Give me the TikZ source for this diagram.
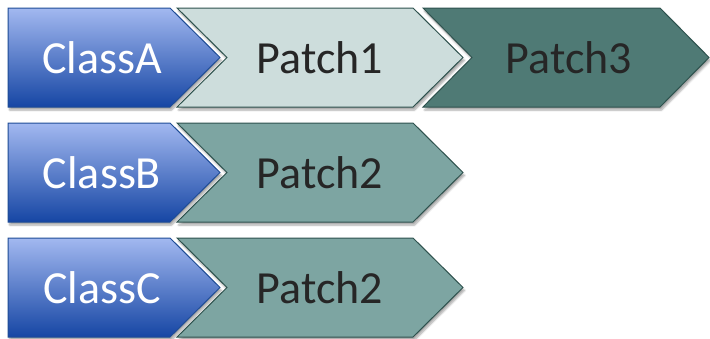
\documentclass[tikz,border=0pt]{standalone}
\usepackage{fontspec}
\setmainfont{Carlito}
\usepackage{tikz}
\usetikzlibrary{shadows.blur}

\definecolor{classtop}{RGB}{162,184,240}
\definecolor{classbot}{RGB}{22,70,164}
\definecolor{classline}{RGB}{30,76,150}
\definecolor{patchline}{RGB}{46,82,78}
\definecolor{patchlight}{RGB}{205,221,220}
\definecolor{patchmid}{RGB}{125,165,162}
\definecolor{patchdark}{RGB}{79,122,117}
\definecolor{labeltext}{RGB}{38,38,38}

\begin{document}
\begin{tikzpicture}[x=1pt, y=-1pt,
    shadowed/.style={blur shadow={shadow xshift=1.5pt, shadow yshift=-3pt, shadow opacity=35, shadow blur steps=6}},
    classbox/.style={shadowed, top color=classtop, bottom color=classbot, draw=classline, line width=1pt},
    patchbox/.style={shadowed, draw=patchline, line width=1pt},
    classlabel/.style={text=white, font=\fontsize{46}{50}\selectfont, inner sep=0pt},
    patchlabel/.style={text=labeltext, font=\fontsize{46}{50}\selectfont, inner sep=0pt}]
    \useasboundingbox (0,0) rectangle (710,338);

    % Row A
    \path[classbox] (8,8) -- (170,8) -- (220,57.5) -- (170,107) -- (8,107) -- cycle;
    \path[patchbox, fill=patchlight] (177,8) -- (413,8) -- (463,57.5) -- (413,107) -- (177,107) -- (227,57.5) -- cycle;
    \path[patchbox, fill=patchdark] (423,8) -- (660,8) -- (709,57.5) -- (660,107) -- (423,107) -- (472,57.5) -- cycle;
    \node[classlabel] (classA) at (102,58) {ClassA};
    \node[patchlabel] (patchA1) at (320,58) {Patch1};
    \node[patchlabel] (patchA3) at (569,58) {Patch3};

    % Row B
    \path[classbox] (8,123) -- (170,123) -- (220,172.5) -- (170,222) -- (8,222) -- cycle;
    \path[patchbox, fill=patchmid] (177,123) -- (413,123) -- (463,172.5) -- (413,222) -- (177,222) -- (227,172.5) -- cycle;
    \node[classlabel] (classB) at (102,173) {ClassB};
    \node[patchlabel] (patchB2) at (320,173) {Patch2};

    % Row C
    \path[classbox] (8,238) -- (170,238) -- (220,287.5) -- (170,337) -- (8,337) -- cycle;
    \path[patchbox, fill=patchmid] (177,238) -- (413,238) -- (463,287.5) -- (413,337) -- (177,337) -- (227,287.5) -- cycle;
    \node[classlabel] (classC) at (102,288) {ClassC};
    \node[patchlabel] (patchC2) at (320,288) {Patch2};
\end{tikzpicture}
\end{document}
